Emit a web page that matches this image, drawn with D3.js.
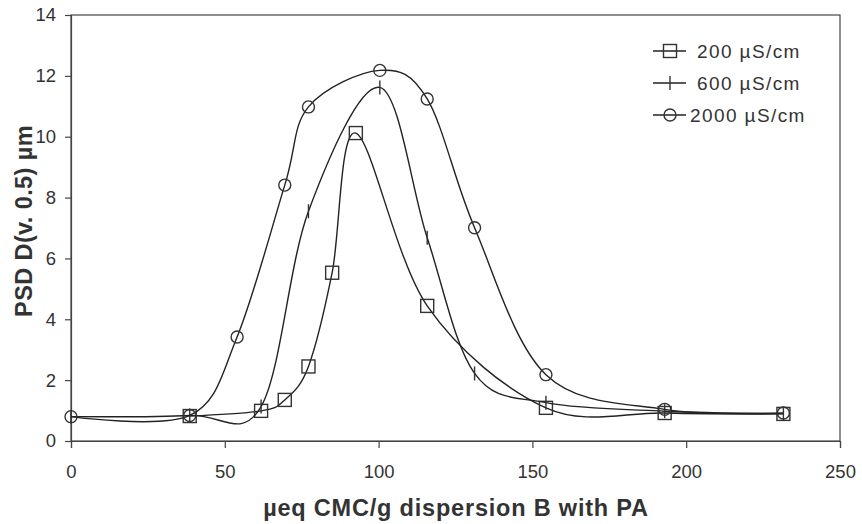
<!DOCTYPE html>
<html>
<head>
<meta charset="utf-8">
<script src="https://cdn.jsdelivr.net/npm/d3@7"></script>
<style>
    body { margin: 0; background: #fff; }
    svg text { font-family: 'Liberation Sans', Arial, sans-serif; fill: #333; }
</style>
</head>
<body>
<div id="chart"></div>
<script>
var width = 862
var height = 524

// data
var x200 = [38.6, 61.8, 69.5, 77.2, 84.9, 92.6, 115.8, 154.4, 193, 231.6]
var y200 = [0.82, 0.99, 1.35, 2.45, 5.53, 10.12, 4.44, 1.09, 0.92, 0.89]

var x600 = [0, 38.6, 61.8, 77.2, 100.4, 115.8, 131.2, 154.4, 193, 231.6]
var y600 = [0.8, 0.84, 1.13, 7.55, 11.62, 6.68, 2.22, 1.26, 0.98, 0.9]

var x2000 = [0, 38.6, 54, 69.5, 77.2, 100.4, 115.8, 131.2, 154.4, 193, 231.6]
var y2000 = [0.8, 0.84, 3.42, 8.41, 10.98, 12.18, 11.24, 7.01, 2.18, 1.04, 0.92]

var seriesNames = ['200 µS/cm', '600 µS/cm', '2000 µS/cm']
var xTicks = [0, 50, 100, 150, 200, 250]
var yTicks = [0, 2, 4, 6, 8, 10, 12, 14]

var margin = { top: 15, right: 22, bottom: 83, left: 71 }
var w = width - margin.left - margin.right
var h = height - margin.top - margin.bottom

var x = d3.scaleLinear().domain([0, 250]).range([0, w])
var y = d3.scaleLinear().domain([0, 14]).range([h, 0])

var svg = d3.select('#chart').append('svg')
    .attr('width', width)
    .attr('height', height)

var g = svg.append('g')
    .attr('transform', 'translate(' + margin.left + ',' + margin.top + ')')

// frame
g.append('rect')
    .attr('width', w)
    .attr('height', h)
    .attr('fill', 'none')
    .attr('stroke', '#444')
    .attr('stroke-width', 1.2)

var xAxis = g.append('g')
    .attr('transform', 'translate(0,' + h + ')')
    .call(d3.axisBottom(x).tickValues(xTicks).tickSize(7).tickPadding(17))
var yAxis = g.append('g')
    .call(d3.axisLeft(y).tickValues(yTicks).tickSize(6).tickPadding(9))

g.selectAll('.domain, .tick line').attr('stroke', '#444').attr('stroke-width', 1.2)
g.selectAll('.tick text')
    .style('font-size', '18.5px')
    .attr('fill', '#333')

var line = d3.line()
    .x(function(d) { return x(d[0]) })
    .y(function(d) { return y(d[1]) })
    .curve(d3.curveCardinal.tension(0))

var series = [
    { name: seriesNames[0], pts: d3.zip(x200, y200), mark: 'square' },
    { name: seriesNames[1], pts: d3.zip(x600, y600), mark: 'tick' },
    { name: seriesNames[2], pts: d3.zip(x2000, y2000), mark: 'circle' }
]

function drawMark(sel, type) {
    if (type === 'square') {
        sel.append('rect')
            .attr('x', -6.5).attr('y', -6.5)
            .attr('width', 13).attr('height', 13)
    } else if (type === 'circle') {
        sel.append('circle').attr('r', 6)
    } else {
        sel.append('line')
            .attr('x1', 0).attr('x2', 0)
            .attr('y1', -7).attr('y2', 7)
    }
    sel.selectAll('*')
        .attr('fill', 'none')
        .attr('stroke', '#333')
        .attr('stroke-width', 1.4)
}

series.forEach(function(s) {
    g.append('path')
        .datum(s.pts)
        .attr('d', line)
        .attr('fill', 'none')
        .attr('stroke', '#222')
        .attr('stroke-width', 1.4)

    g.append('g').selectAll('g')
        .data(s.pts)
        .enter().append('g')
        .attr('transform', function(d) { return 'translate(' + x(d[0]) + ',' + y(d[1]) + ')' })
        .each(function() { drawMark(d3.select(this), s.mark) })
})

// legend
var legend = svg.append('g').attr('transform', 'translate(653,51)')
series.forEach(function(s, i) {
    var row = legend.append('g').attr('transform', 'translate(0,' + (i * 32) + ')')
    row.append('line')
        .attr('x1', 0).attr('x2', 33)
        .attr('stroke', '#222')
        .attr('stroke-width', 1.4)
    drawMark(row.append('g').attr('transform', 'translate(17,0)'), s.mark)
    row.append('text')
        .attr('x', i === 2 ? 37 : 44)
        .attr('dy', '0.36em')
        .style('font-size', '19px')
        .style('letter-spacing', '1.4px')
        .text(s.name)
})

// axis titles
svg.append('text')
    .attr('x', 456)
    .attr('y', 516)
    .attr('text-anchor', 'middle')
    .style('font-size', '23.5px')
    .style('font-weight', 'bold')
    .style('letter-spacing', '0.8px')
    .text('µeq CMC/g dispersion B with PA')

svg.append('text')
    .attr('transform', 'translate(32,221) rotate(-90)')
    .attr('text-anchor', 'middle')
    .style('font-size', '23.5px')
    .style('font-weight', 'bold')
    .style('letter-spacing', '0.4px')
    .text('PSD D(v. 0.5) µm')
</script>
</body>
</html>
